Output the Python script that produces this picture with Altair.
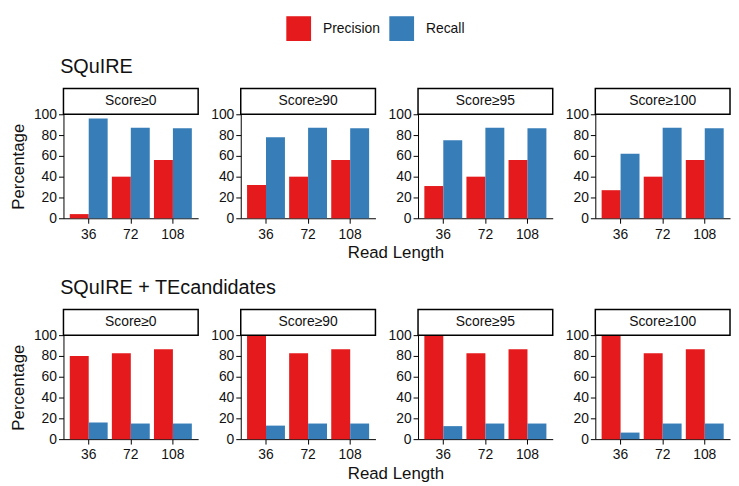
import altair as alt
import pandas as pd

read_lengths = ["36", "72", "108"]
score_labels = ["Score≥0", "Score≥90", "Score≥95", "Score≥100"]
metrics = ["Precision", "Recall"]
section_titles = ["SQuIRE", "SQuIRE + TEcandidates"]
x_title = "Read Length"
y_title = "Percentage"
y_ticks = [0, 20, 40, 60, 80, 100]

# values per score threshold, in read-length order 36, 72, 108
squire_precision = [[4, 40, 56], [32, 40, 56], [31, 40, 56], [27, 40, 56]]
squire_recall = [[96, 87, 86.5], [78, 87, 86.5], [75, 87, 86.5], [62, 87, 86.5]]
tec_precision = [[80, 82.5, 86.5], [100, 82.5, 86.5], [100, 82.5, 86.5], [100, 82.5, 86.5]]
tec_recall = [[16, 15, 15], [13, 15, 15], [12.5, 15, 15], [6.3, 15, 15]]

W, H = 136, 105
STRIP = 26
FONT = "Liberation Sans"
TXT = "#111111"

color_scale = alt.Scale(domain=metrics, range=["#E41A1C", "#377EB8"])
legend = alt.Legend(
    orient="none", legendX=225, legendY=-99, direction="horizontal", title=None,
    symbolType="square", symbolSize=625, symbolStrokeWidth=0, labelFontSize=14,
    labelFont=FONT, labelColor=TXT, labelOffset=12, columnPadding=9,
)


def panel(prec, rec, label, first):
    df = pd.DataFrame({
        "len": read_lengths * 2,
        "metric": [metrics[0]] * 3 + [metrics[1]] * 3,
        "value": list(prec) + list(rec),
    })
    bars = alt.Chart(df).mark_bar().encode(
        x=alt.X("len:N", sort=read_lengths,
                scale=alt.Scale(paddingInner=0.1, paddingOuter=0.15),
                axis=alt.Axis(title=None, labelAngle=0, labelPadding=4)),
        xOffset=alt.XOffset("metric:N", sort=metrics,
                            scale=alt.Scale(paddingInner=0, paddingOuter=0)),
        y=alt.Y("value:Q", scale=alt.Scale(domain=[0, 100], nice=False),
                axis=alt.Axis(values=y_ticks, title=y_title if first else None)),
        color=alt.Color("metric:N", scale=color_scale, sort=metrics, legend=legend),
    )
    sdf = pd.DataFrame({"label": [label]})
    rect = alt.Chart(sdf).mark_rect(fill="white", stroke="black", strokeWidth=1.5).encode(
        x=alt.value(0), x2=alt.value(W), y=alt.value(-STRIP), y2=alt.value(0)
    )
    txt = alt.Chart(sdf).mark_text(font=FONT, fontSize=14, color=TXT).encode(
        x=alt.value(W / 2), y=alt.value(-STRIP / 2), text="label:N"
    )
    return alt.layer(bars, rect, txt).properties(width=W, height=H)


def section(title, precs, recs):
    panels = [panel(p, r, s, i == 0) for i, (p, r, s) in enumerate(zip(precs, recs, score_labels))]
    row = alt.hconcat(*panels, spacing=11).properties(
        title=alt.TitleParams(x_title, orient="bottom", anchor="middle", fontSize=17,
                              fontWeight="normal", font=FONT, color=TXT, offset=4, dx=26)
    )
    return alt.vconcat(row, spacing=0).properties(
        title=alt.TitleParams(title, anchor="start", fontSize=20, fontWeight="normal",
                              font=FONT, color=TXT, offset=11, dx=51)
    )


chart = alt.vconcat(
    section(section_titles[0], squire_precision, squire_recall),
    section(section_titles[1], tec_precision, tec_recall),
    spacing=17,
).properties(
    padding={"left": 1, "top": 6, "right": 0, "bottom": 0}
).configure_view(stroke=None).configure_axis(
    grid=False, domainColor="black", tickColor="black", domainWidth=1, tickWidth=1,
    tickSize=5, labelPadding=2, labelFontSize=14, labelFont=FONT, labelColor=TXT,
    titleFontSize=17, titleFont=FONT, titleColor=TXT, titleFontWeight="normal",
    titlePadding=6,
)

chart.save("out.html", embed_options={"renderer": "svg", "actions": False})
